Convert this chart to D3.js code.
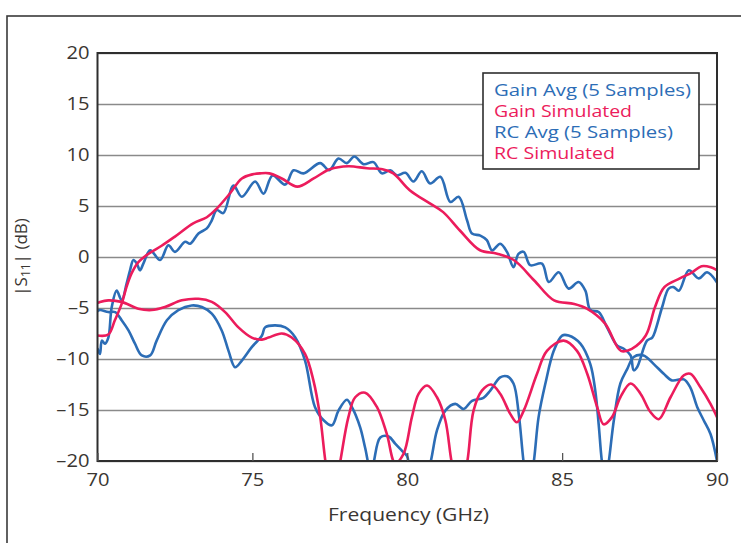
<!DOCTYPE html>
<html><head><meta charset="utf-8">
<script src="https://cdn.jsdelivr.net/npm/d3@7"></script>
<style>
html,body{margin:0;padding:0;background:#fff;}
svg{display:block;font-family:"Open Sans",sans-serif;}
</style></head>
<body>
<svg id="chart" width="741" height="543"></svg>
<script>
// ---- data ----
const xTicks = [70, 75, 80, 85, 90];
const yTicks = [-20, -15, -10, -5, 0, 5, 10, 15, 20];
const seriesNames = ["Gain Avg (5 Samples)", "Gain Simulated", "RC Avg (5 Samples)", "RC Simulated"];

const gainAvgF = [70.00,70.08,70.14,70.24,70.35,70.46,70.62,70.78,70.94,71.05,71.16,71.27,71.37,71.48,71.70,72.02,72.29,72.50,72.83,72.99,73.26,73.53,73.69,73.85,74.06,74.39,74.66,75.09,75.36,75.65,76.06,76.33,76.65,77.19,77.48,77.78,78.05,78.29,78.59,78.91,79.18,79.45,79.67,79.94,80.20,80.47,80.74,81.07,81.39,81.66,81.93,82.09,82.36,82.57,82.74,83.00,83.22,83.43,83.59,83.76,83.97,84.35,84.57,84.89,85.21,85.53,85.75,85.91,86.18,86.45,86.78,86.99,87.21,87.31,87.42,87.74,87.91,88.01,88.23,88.44,88.60,88.77,89.09,89.41,89.68,90.00];
const gainAvgV = [-9.0,-9.5,-8.2,-8.5,-7.9,-4.9,-3.3,-4.25,-2.6,-1.3,-0.3,-0.65,-1.3,-0.65,0.65,-0.3,1.15,0.5,1.5,1.3,2.3,2.8,3.6,4.6,4.3,7.0,5.9,7.4,6.2,8.0,7.1,8.5,8.2,9.2,8.5,9.65,9.2,9.85,9.1,9.3,8.2,8.5,8.0,8.25,7.4,8.4,7.2,7.86,5.4,5.9,3.6,2.3,2.1,1.65,0.65,1.3,0.5,-1.0,0.3,0.5,-0.8,-0.65,-2.45,-1.5,-3.1,-2.45,-3.3,-5.2,-5.4,-6.9,-8.7,-9.0,-9.65,-11.1,-10.8,-8.2,-7.9,-7.2,-4.9,-3.1,-2.95,-3.3,-1.3,-2.1,-1.5,-2.5];

const gainSimF = [70.00,70.35,70.56,70.78,70.94,71.10,71.32,71.64,72.07,72.50,73.09,73.53,73.85,74.28,74.66,75.00,75.25,75.55,75.95,76.45,76.98,77.50,78.10,78.70,79.20,79.55,80.08,80.73,81.16,81.70,82.35,82.90,83.45,84.10,84.74,85.39,85.80,86.38,86.90,87.25,87.70,88.00,88.30,88.80,89.20,89.50,89.80,90.00];
const gainSimV = [-7.7,-7.6,-6.2,-4.6,-2.9,-1.6,-0.5,0.3,1.1,2.0,3.3,3.9,4.75,6.25,7.7,8.1,8.2,8.2,7.7,6.9,7.7,8.6,8.9,8.7,8.6,8.2,6.55,5.25,4.4,2.6,0.66,0.33,-0.32,-2.3,-4.25,-4.6,-5.07,-6.5,-9.2,-9.0,-7.7,-4.9,-2.95,-2.1,-1.5,-0.9,-1.0,-1.3];

const rcAvgF = [70.00,70.08,70.35,70.57,70.78,71.00,71.21,71.43,71.70,71.91,72.24,72.61,73.04,73.37,73.69,74.01,74.23,74.44,74.66,74.98,75.31,75.41,75.73,76.06,76.38,76.70,77.02,77.30,77.57,77.78,78.05,78.21,78.48,78.64,78.82,78.91,79.13,79.40,79.61,79.83,79.99,80.06,80.36,80.74,80.96,81.23,81.55,81.82,82.09,82.46,82.68,83.00,83.22,83.43,83.60,83.76,83.91,84.08,84.24,84.46,84.73,85.00,85.21,85.59,85.91,86.07,86.18,86.29,86.40,86.50,86.67,86.88,87.10,87.31,87.63,87.96,88.28,88.55,88.93,89.14,89.36,89.57,89.79,90.00];
const rcAvgV = [-5.3,-5.2,-5.4,-5.4,-6.2,-7.2,-8.5,-9.65,-9.65,-8.2,-6.2,-5.2,-4.75,-4.9,-5.56,-7.2,-9.2,-10.8,-10.15,-8.84,-7.7,-6.9,-6.7,-6.9,-7.86,-10.15,-14.7,-16.0,-16.5,-15.06,-14.0,-14.7,-16.7,-18.7,-21.0,-20.2,-17.7,-17.6,-18.3,-19.0,-19.5,-20.5,-24.0,-20.3,-17.0,-15.06,-14.4,-14.9,-14.1,-13.8,-13.1,-11.8,-11.7,-12.4,-15.4,-20.2,-23.0,-20.2,-15.7,-12.4,-9.2,-7.7,-7.7,-8.5,-10.5,-13.1,-16.4,-20.2,-22.0,-20.2,-16.0,-12.4,-11.0,-9.8,-9.65,-10.5,-11.45,-12.1,-12.0,-12.8,-14.7,-16.0,-17.35,-20.0];

const rcSimF = [70.00,70.08,70.35,70.78,71.32,71.75,72.18,72.72,73.26,73.69,74.12,74.55,74.98,75.31,75.52,75.95,76.27,76.70,76.97,77.19,77.38,77.61,77.84,78.10,78.32,78.64,79.02,79.34,79.61,79.88,80.15,80.37,80.64,80.96,81.23,81.44,81.68,81.93,82.14,82.41,82.71,83.00,83.33,83.54,83.76,84.19,84.51,85.05,85.48,85.81,86.13,86.34,86.61,86.88,87.21,87.53,87.85,88.12,88.50,88.93,89.14,89.47,89.79,90.00];
const rcSimV = [-4.5,-4.4,-4.25,-4.4,-5.07,-5.2,-4.9,-4.25,-4.1,-4.4,-5.4,-6.9,-7.9,-8.1,-7.9,-7.5,-7.9,-9.5,-12.1,-15.7,-20.5,-24.0,-20.0,-15.7,-13.75,-13.3,-14.7,-17.35,-20.2,-19.3,-15.7,-13.4,-12.6,-13.75,-16.0,-20.2,-23.0,-20.2,-15.06,-13.1,-12.5,-13.4,-15.4,-16.2,-15.06,-11.45,-9.2,-8.2,-9.2,-11.45,-14.7,-16.4,-15.7,-13.75,-12.4,-13.4,-15.2,-15.9,-13.75,-11.6,-11.45,-12.8,-14.4,-15.7];

const colors = ["#2c6db6", "#ec1c5c", "#2c6db6", "#ec1c5c"];
const legendWidths = [197, 138, 179, 121];

// ---- layout ----
const svg = d3.select("#chart");
const L = 97.5, R = 717, T = 53, B = 461;
const x = d3.scaleLinear().domain([70, 90]).range([L, R]);
const y = d3.scaleLinear().domain([-20, 20]).range([B, T]);

function stretch(sel, k) {
  sel.each(function () {
    const w = this.getComputedTextLength();
    d3.select(this).attr("textLength", w * k).attr("lengthAdjust", "spacingAndGlyphs");
  });
}

// outer frame
svg.append("rect").attr("x", 7).attr("y", 16).attr("width", 800).attr("height", 600)
  .attr("fill", "none").attr("stroke", "#3a3a3a").attr("stroke-width", 1.6);

// gridlines
const grid = svg.append("g").attr("transform", `translate(${L},0)`)
  .call(d3.axisLeft(y).tickValues(yTicks).tickSize(-(R - L)).tickFormat(""));
grid.select(".domain").remove();
grid.selectAll("line").attr("stroke", "#8a8a8a").attr("stroke-width", 1.6);

// clip
svg.append("clipPath").attr("id", "clip").append("rect")
  .attr("x", L).attr("y", T).attr("width", R - L).attr("height", B - T);

const line = d3.line().x(d => x(d[0])).y(d => y(d[1])).curve(d3.curveCatmullRom.alpha(0.5));
const data = [
  d3.zip(gainAvgF, gainAvgV),
  d3.zip(gainSimF, gainSimV),
  d3.zip(rcAvgF, rcAvgV),
  d3.zip(rcSimF, rcSimV)
];
const plot = svg.append("g").attr("clip-path", "url(#clip)");
[0, 2, 1, 3].forEach(i => {
  plot.append("path").datum(data[i]).attr("d", line)
    .attr("fill", "none").attr("stroke", colors[i]).attr("stroke-width", 2.6)
    .attr("stroke-linejoin", "round").attr("stroke-linecap", "round");
});

// plot frame
svg.append("rect").attr("x", L).attr("y", T).attr("width", R - L).attr("height", B - T)
  .attr("fill", "none").attr("stroke", "#2e2e2e").attr("stroke-width", 2);

// axes
const fmt = d => d < 0 ? "\u2013" + (-d) : String(d);
const xAxis = svg.append("g").attr("transform", `translate(0,${B})`)
  .call(d3.axisBottom(x).tickValues(xTicks).tickSizeInner(-8).tickSizeOuter(0).tickPadding(12).tickFormat(fmt));
xAxis.select(".domain").remove();
xAxis.selectAll("line").attr("stroke", "#555").attr("stroke-width", 1.3);
xAxis.selectAll("text").attr("font-size", 18).attr("fill", "#3a3632").attr("font-family", "Open Sans");
stretch(xAxis.selectAll("text"), 1.12);

const yAxis = svg.append("g").attr("transform", `translate(${L},0)`)
  .call(d3.axisLeft(y).tickValues(yTicks).tickSize(0).tickPadding(8).tickFormat(fmt));
yAxis.select(".domain").remove();
yAxis.selectAll("text").attr("font-size", 18).attr("fill", "#3a3632").attr("font-family", "Open Sans");
stretch(yAxis.selectAll("text"), 1.12);

// axis titles
svg.append("text").attr("x", 408.5).attr("y", 521).attr("text-anchor", "middle")
  .attr("font-size", 18).attr("fill", "#3a3632")
  .attr("textLength", 161).attr("lengthAdjust", "spacingAndGlyphs")
  .text("Frequency (GHz)");

const yt = svg.append("text").attr("transform", `translate(27,${(T + B) / 2}) rotate(-90)`)
  .attr("text-anchor", "middle").attr("font-size", 17).attr("fill", "#3a3632");
yt.append("tspan").text("|S");
yt.append("tspan").attr("font-size", 12).attr("dy", 3).text("11");
yt.append("tspan").attr("dy", -3).text("| (dB)");

// legend
svg.append("rect").attr("x", 483).attr("y", 73).attr("width", 216).attr("height", 96)
  .attr("fill", "#fff").attr("stroke", "#2e2e2e").attr("stroke-width", 1.6);
const lg = svg.append("g");
seriesNames.forEach((n, i) => {
  lg.append("text").attr("x", 494).attr("y", 96 + i * 21)
    .attr("font-size", 17).attr("fill", colors[i])
    .attr("textLength", legendWidths[i]).attr("lengthAdjust", "spacingAndGlyphs")
    .text(n);
});
</script>
</body></html>
